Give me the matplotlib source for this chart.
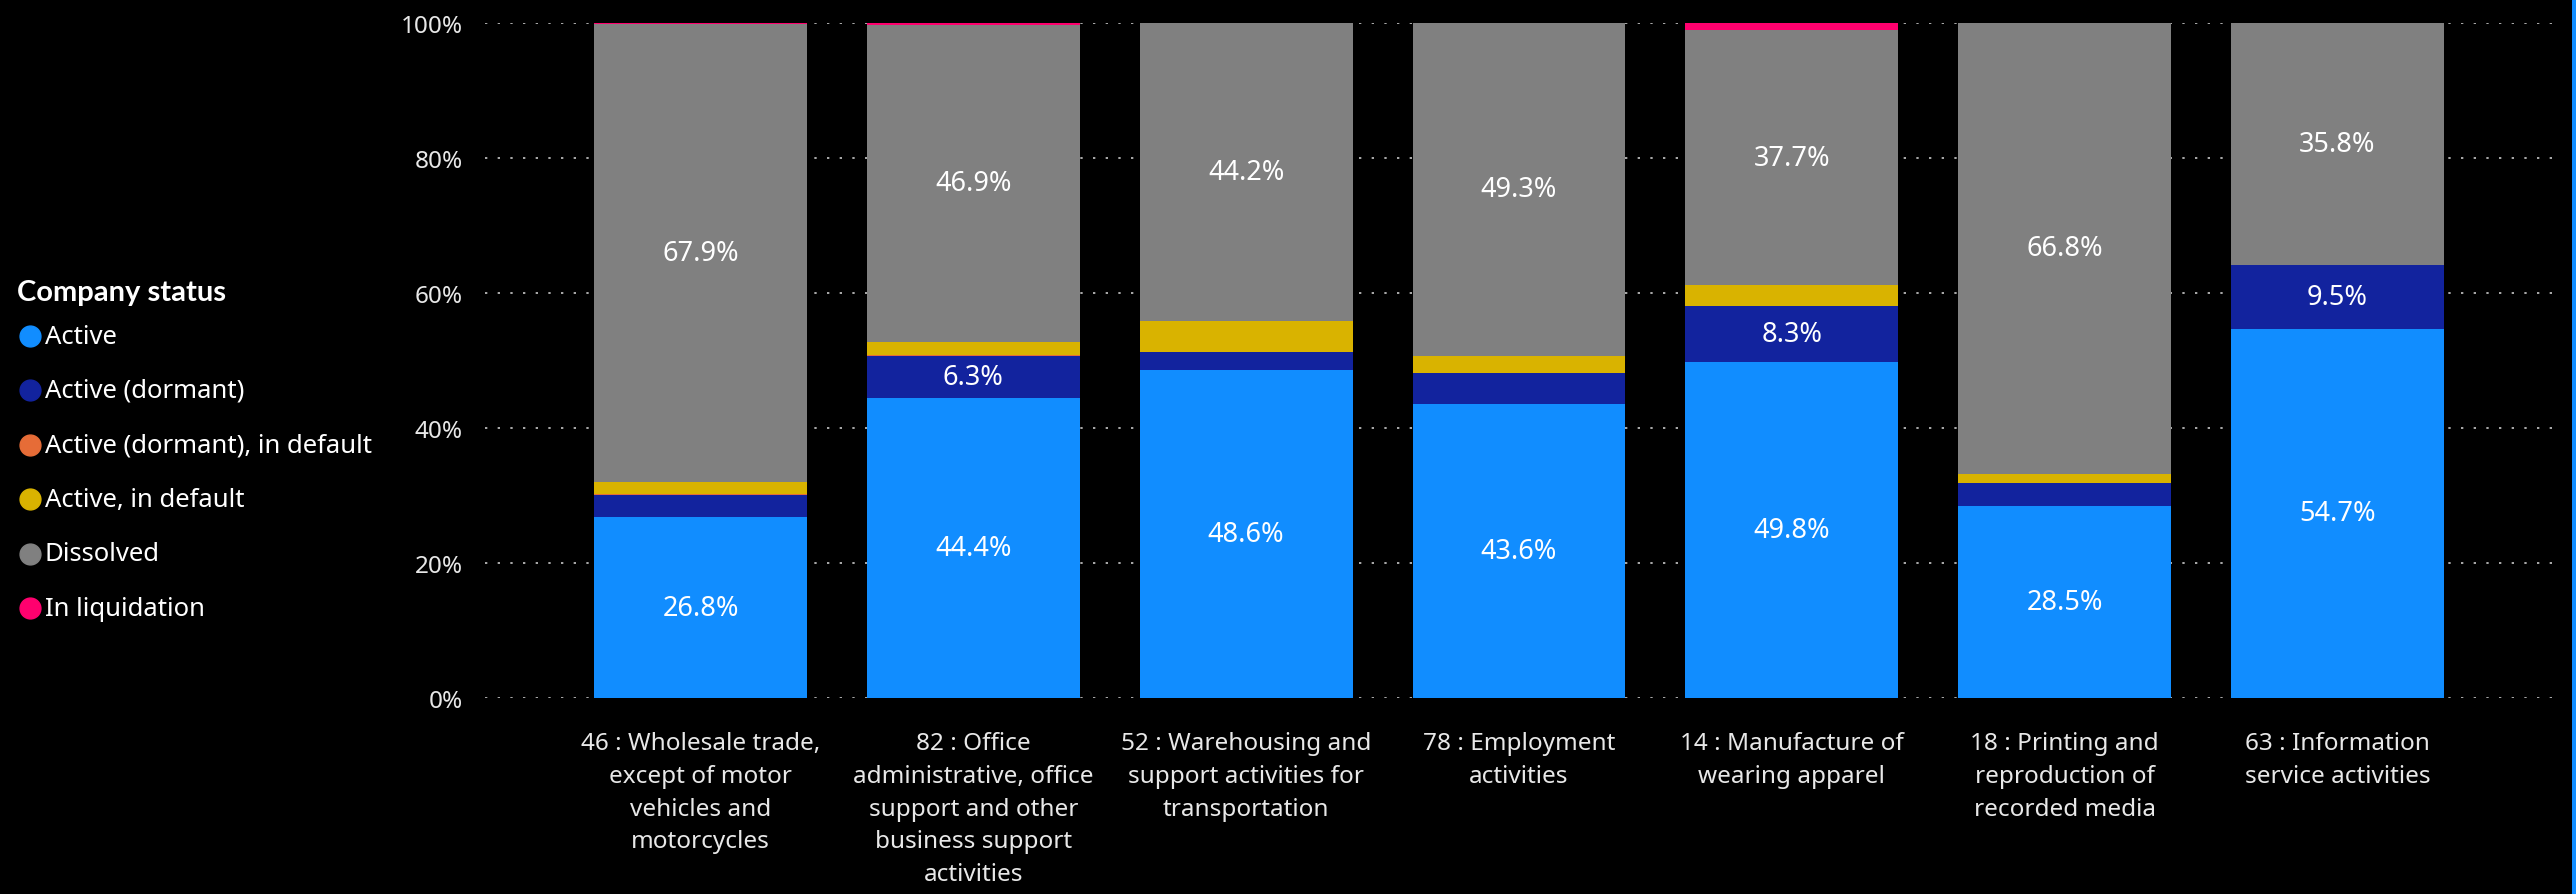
import numpy as np
import matplotlib
matplotlib.use("Agg")
import matplotlib.pyplot as plt
from matplotlib.lines import Line2D

plt.rcParams['font.family'] = ['Noto Sans', 'DejaVu Sans']

# 資料
categories = [
    "46 : Wholesale trade,\nexcept of motor\nvehicles and\nmotorcycles",
    "82 : Office\nadministrative, office\nsupport and other\nbusiness support\nactivities",
    "52 : Warehousing and\nsupport activities for\ntransportation",
    "78 : Employment\nactivities",
    "14 : Manufacture of\nwearing apparel",
    "18 : Printing and\nreproduction of\nrecorded media",
    "63 : Information\nservice activities",
]
statuses = ["Active", "Active (dormant)", "Active (dormant), in default",
            "Active, in default", "Dissolved", "In liquidation"]
colors = ["#118DFF", "#12239E", "#E66C37", "#D9B300", "#808080", "#FF006E"]

active = [26.8, 44.4, 48.6, 43.6, 49.8, 28.5, 54.7]
active_dormant = [3.3, 6.3, 2.6, 4.5, 8.3, 3.4, 9.5]
dormant_default = [0.1, 0.1, 0.1, 0.0, 0.0, 0.0, 0.0]
active_default = [1.8, 2.0, 4.5, 2.6, 3.1, 1.3, 0.0]
dissolved = [67.9, 46.9, 44.2, 49.3, 37.7, 66.8, 35.8]
liquidation = [0.1, 0.3, 0.0, 0.0, 1.1, 0.0, 0.0]

yticks = [0, 20, 40, 60, 80, 100]

series = [active, active_dormant, dormant_default, active_default, dissolved, liquidation]

# 畫圖
fig = plt.figure(figsize=(25.76, 8.95), dpi=100, facecolor="black")
ax = fig.add_axes([485 / 2576, 1 - 699 / 895, (2553 - 485) / 2576, (699 - 24) / 895])
ax.set_facecolor("black")

x = np.arange(len(categories))
bottom = np.zeros(len(categories))
for name, vals, col in zip(statuses, series, colors):
    vals = np.array(vals)
    ax.bar(x, vals, width=0.78, bottom=bottom, color=col, zorder=2, linewidth=0)
    for xi, b, v in zip(x, bottom, vals):
        if v >= 5:
            ax.text(xi, b + v / 2, f"{v:.1f}%", ha="center", va="center",
                    color="white", fontsize=19.5, zorder=3)
    bottom += vals

ax.set_xlim(-0.79, 6.79)
ax.set_ylim(0, 100)
ax.set_yticks(yticks)
ax.set_yticklabels([f"{t}%" for t in yticks])
ax.set_xticks(x)
ax.set_xticklabels(categories, linespacing=1.48)
ax.tick_params(axis="y", length=0, pad=16, labelsize=17.5, labelcolor="#E8E8E8")
ax.tick_params(axis="x", length=0, pad=24, labelsize=17.5, labelcolor="#E8E8E8")
ax.yaxis.grid(True, color="#C8C8C8", linewidth=1.2, linestyle=(0, (1.4, 6.2)), zorder=0)
ax.set_axisbelow(True)
for s in ax.spines.values():
    s.set_visible(False)

# 圖例
fig.text(17 / 2576, 1 - 293 / 895, "Company status", color="white",
         fontsize=21, fontweight="bold", family=["Lato", "DejaVu Sans"],
         ha="left", va="center")
for i, (name, col) in enumerate(zip(statuses, colors)):
    yy = 1 - (337 + i * 54.4) / 895
    fig.add_artist(Line2D([30 / 2576], [yy], marker="o", markersize=15,
                          color=col, transform=fig.transFigure, linestyle="none"))
    fig.text(45 / 2576, yy, name, color="white", fontsize=18.5, ha="left", va="center")

# 右邊藍線
fig.add_artist(Line2D([2573.5 / 2576, 2573.5 / 2576], [0, 1], color="#118DFF",
                      linewidth=3.6, transform=fig.transFigure))

fig.savefig("out.png", dpi=100, facecolor="black")
